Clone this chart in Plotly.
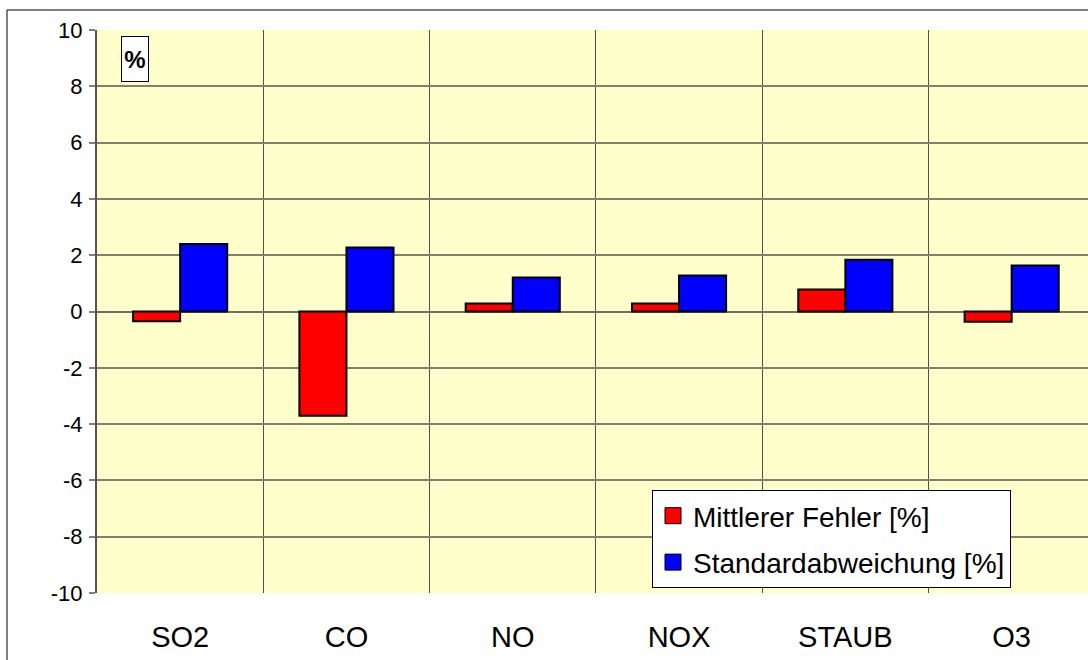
import plotly.graph_objects as go

categories = ["SO2", "CO", "NO", "NOX", "STAUB", "O3"]
mittlerer_fehler = [-0.35, -3.7, 0.28, 0.28, 0.78, -0.36]
standardabweichung = [2.40, 2.27, 1.21, 1.28, 1.84, 1.63]
series_names = ["Mittlerer Fehler [%]", "Standardabweichung [%]"]
series_colors = ["#FF0000", "#0000FF"]
y_ticks = [-10, -8, -6, -4, -2, 0, 2, 4, 6, 8, 10]
y_tick_text = [str(v) for v in y_ticks]

W, H = 1088, 660
L, R, T, B = 97, 0, 30, 67
plot_w = W - L - R
plot_h = H - T - B
cat_px = 166.3

FONT = "Liberation Sans, Arial, sans-serif"

fig = go.Figure()
for vals, name, col in zip([mittlerer_fehler, standardabweichung], series_names, series_colors):
    fig.add_trace(go.Bar(
        x=categories, y=vals, name=name,
        marker=dict(color=col, line=dict(color="#000000", width=2)),
        showlegend=False,
    ))
# legend-only entries (larger square swatches)
for i, (name, col) in enumerate(zip(series_names, series_colors)):
    fig.add_trace(go.Scatter(
        x=[None], y=[None], mode="markers", name=name,
        marker=dict(symbol="square", size=16, color=col,
                    line=dict(color="#000000", width=1)),
        legendgroup=f"g{i}", showlegend=True, hoverinfo="skip",
    ))

x_max = -0.5 + plot_w / cat_px

fig.update_layout(
    width=W, height=H,
    margin=dict(l=L, r=R, t=T, b=B, pad=0),
    paper_bgcolor="white",
    plot_bgcolor="#FFFFCC",
    barmode="group",
    bargap=0.434,
    bargroupgap=0,
    font=dict(family=FONT, color="black"),
    showlegend=True,
    legend=dict(
        x=(652 - L) / plot_w, y=(H - B - 490) / plot_h,
        xanchor="left", yanchor="top",
        bgcolor="white", bordercolor="black", borderwidth=1,
        font=dict(size=28, family=FONT),
        traceorder="grouped", tracegroupgap=7,
        itemwidth=30,
    ),
    xaxis=dict(
        type="category",
        range=[-0.5, x_max],
        tickson="boundaries",
        showgrid=True, gridcolor="#505050", gridwidth=1,
        ticks="", ticklen=0,
        ticklabelstandoff=24,
        tickfont=dict(size=29, family=FONT),
        showline=False, zeroline=False,
    ),
    yaxis=dict(
        range=[-10, 10],
        tickvals=y_ticks, ticktext=y_tick_text,
        showgrid=True, gridcolor="#808070", gridwidth=1.5,
        zeroline=True, zerolinecolor="#707060", zerolinewidth=2,
        showline=True, linecolor="#555555", linewidth=2,
        ticks="outside", ticklen=6, tickcolor="#808080", tickwidth=2,
        tickfont=dict(size=22, family=FONT),
        ticklabelstandoff=2,
    ),
)

# outer chart border
fig.add_shape(type="rect", xref="paper", yref="paper",
              x0=(7 - L) / plot_w, x1=1.2,
              y0=-0.3, y1=(H - B - 10) / plot_h,
              line=dict(color="black", width=1), layer="below")

# unit label box
fig.add_annotation(
    xref="paper", yref="paper",
    x=(135 - L) / plot_w, y=(H - B - 36) / plot_h,
    xanchor="center", yanchor="top",
    text="<b>%</b>", showarrow=False,
    font=dict(size=24, family=FONT, color="black"),
    width=26, height=44, valign="middle",
    bgcolor="white", bordercolor="black", borderwidth=1, borderpad=0,
)

fig.write_html(
    "out.html",
    config={"displayModeBar": False},
    post_script="document.body.style.margin='0';document.body.style.overflow='hidden';",
)
